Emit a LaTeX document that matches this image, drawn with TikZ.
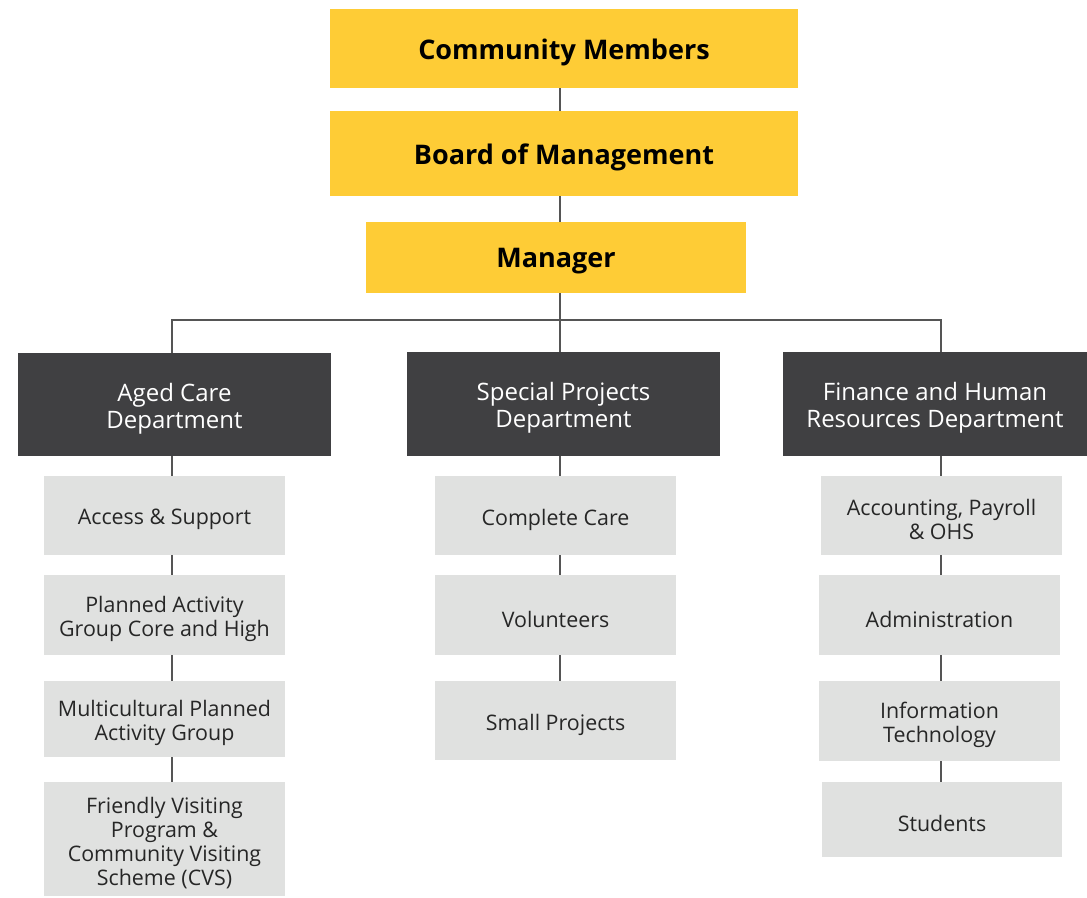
\documentclass[tikz,border=0pt]{standalone}
\usepackage{fontspec}
\setmainfont{Open Sans}
\usetikzlibrary{backgrounds}
\definecolor{ylw}{HTML}{FECC36}
\definecolor{dgray}{HTML}{404042}
\definecolor{lgray}{HTML}{E0E1E0}
\definecolor{lnc}{HTML}{555555}
\tikzset{
  top/.style={fill=ylw},
  toptxt/.style={inner sep=0pt, font=\fontsize{27}{32}\selectfont\bfseries, text=black},
  dept/.style={fill=dgray},
  depttxt/.style={inner sep=0pt, align=center, text=white, font=\fontsize{24}{27}\selectfont},
  sub/.style={fill=lgray},
  subtxt/.style={inner sep=0pt, align=center, text=black!85, font=\fontsize{21.4}{24}\selectfont},
  link/.style={draw=lnc, line width=1.4pt},
}
\newcommand{\bx}[7]{% name style x1 y1 x2 y2 text
  \node[#2, inner sep=0pt, minimum width={#5-#3}, minimum height={#6-#4}] (#1) at ({(#3+#5)/2},{(#4+#6)/2}) {};
  \node[#2txt] (#1t) at ([yshift=-4pt]#1.center) {#7};}
\begin{document}
\begin{tikzpicture}[x=1pt,y=-1pt]
\useasboundingbox (0,0) rectangle (1087,897);
\bx{cm}{top}{330}{9}{798}{88}{Community Members}
\bx{bm}{top}{330}{111}{798}{196}{Board of Management}
\bx{mg}{top}{366}{222}{746}{293}{Manager}
\bx{ac}{dept}{18}{353}{331}{456}{Aged Care\\Department}
\bx{sp}{dept}{407}{352}{720}{456}{Special Projects\\Department}
\bx{fh}{dept}{783}{352}{1087}{456}{Finance and Human\\Resources Department}
\bx{a1}{sub}{44}{476}{285}{555}{Access \& Support}
\bx{a2}{sub}{44}{575}{285}{655}{Planned Activity\\Group Core and High}
\bx{a3}{sub}{44}{681}{285}{757}{Multicultural Planned\\Activity Group}
\bx{a4}{sub}{44}{782}{285}{896}{Friendly Visiting\\Program \&\\Community Visiting\\Scheme (CVS)}
\bx{s1}{sub}{435}{476}{676}{555}{Complete Care}
\bx{s2}{sub}{435}{575}{676}{655}{Volunteers}
\bx{s3}{sub}{435}{681}{676}{760}{Small Projects}
\bx{f1}{sub}{821}{476}{1062}{555}{Accounting, Payroll\\\& OHS}
\bx{f2}{sub}{819}{575}{1060}{655}{Administration}
\bx{f3}{sub}{819}{681}{1060}{761}{Information\\Technology}
\bx{f4}{sub}{822}{782}{1062}{857}{Students}
\coordinate (tc) at (560,0);
\coordinate (lc) at (172,0);
\coordinate (rc) at (941,0);
\coordinate (bus) at (0,320);
\begin{scope}[on background layer]
\draw[link] (tc |- cm.south) -- (tc |- bm.north);
\draw[link] (tc |- bm.south) -- (tc |- mg.north);
\draw[link] (tc |- mg.south) -- (tc |- sp.north);
\draw[link] (lc |- ac.north) -- (lc |- bus) -- (rc |- bus) -- (rc |- fh.north);
\draw[link] (lc |- ac.south) -- (lc |- a4.north);
\draw[link] (tc |- sp.south) -- (tc |- s3.north);
\draw[link] (rc |- fh.south) -- (rc |- f4.north);
\end{scope}
\end{tikzpicture}
\end{document}
